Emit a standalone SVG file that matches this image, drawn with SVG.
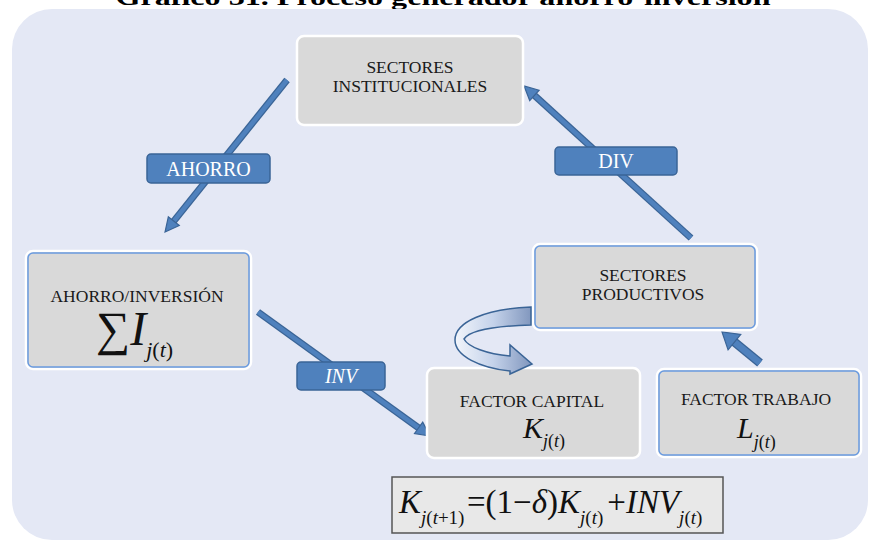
<svg xmlns="http://www.w3.org/2000/svg" width="869" height="548" viewBox="0 0 869 548" font-family="'Liberation Serif','Times New Roman',serif">
<defs>
<style>
.box{fill:#d9d9d9;stroke:#ffffff;stroke-width:2.5}
.edge{fill:none;stroke:#6a9be0;stroke-width:1.5}
.t{font-size:17.5px;fill:#1a1a1a;text-anchor:middle}
.m{font-style:italic;fill:#111111}
.up{font-style:normal}
.lab{fill:#4f81bd;stroke:#3a6496;stroke-width:1.5}
.labt{font-size:20px;fill:#ffffff;text-anchor:middle}
.sho{stroke:#3a6496;stroke-width:7;fill:none}
.shi{stroke:#4f81bd;stroke-width:4.5;fill:none}
.shoB{stroke:#3a6496;stroke-width:9;fill:none}
.shiB{stroke:#4f81bd;stroke-width:6.5;fill:none}
</style>
<marker id="ah" markerUnits="userSpaceOnUse" markerWidth="20" markerHeight="20" viewBox="-2 -10 20 20" refX="0" refY="0" orient="auto"><path d="M0,-7 L14,0 L0,7 Z" fill="#4f81bd" stroke="#3a6496" stroke-width="1.2"/></marker>
<marker id="ahB" markerUnits="userSpaceOnUse" markerWidth="22" markerHeight="26" viewBox="-2 -13 22 26" refX="0" refY="0" orient="auto"><path d="M0,-10 L16,0 L0,10 Z" fill="#4f81bd" stroke="#3a6496" stroke-width="1.2"/></marker>
<linearGradient id="cg" x1="0" y1="0" x2="1" y2="0">
<stop offset="0" stop-color="#f2f5fb"/>
<stop offset="0.5" stop-color="#c4d2ea"/>
<stop offset="1" stop-color="#8096bd"/>
</linearGradient>
</defs>

<text x="443" y="5" font-size="24" font-weight="bold" text-anchor="middle" textLength="655" lengthAdjust="spacingAndGlyphs" fill="#000">Gráfico 31. Proceso generador ahorro-inversión</text>

<rect x="12" y="9" width="856" height="531" rx="40" fill="#e4e8f5"/>

<g id="connectors">
  <line class="sho" x1="287" y1="80" x2="173.8" y2="221.1"/>
  <line class="shi" x1="287" y1="80" x2="173.8" y2="221.1" marker-end="url(#ah)"/>
  <line class="sho" x1="691" y1="238" x2="534.4" y2="95.4"/>
  <line class="shi" x1="691" y1="238" x2="534.4" y2="95.4" marker-end="url(#ah)"/>
  <line class="sho" x1="258" y1="312" x2="418.6" y2="427.8"/>
  <line class="shi" x1="258" y1="312" x2="418.6" y2="427.8" marker-end="url(#ah)"/>
  <line class="shoB" x1="760" y1="363" x2="734.4" y2="342.1"/>
  <line class="shiB" x1="760" y1="363" x2="734.4" y2="342.1" marker-end="url(#ahB)"/>
  <g id="lbl-ahorro">
    <rect class="lab" x="147" y="154" width="123" height="29" rx="4"/>
    <text class="labt" x="208.5" y="175.5">AHORRO</text>
  </g>
  <g id="lbl-div">
    <rect class="lab" x="555" y="147" width="122" height="28" rx="4"/>
    <text class="labt" x="616" y="168">DIV</text>
  </g>
  <g id="lbl-inv">
    <rect class="lab" x="297" y="362" width="88" height="28" rx="4"/>
    <text class="labt" x="341" y="383" font-style="italic">INV</text>
  </g>
</g>

<g id="n-institucionales">
  <rect class="box" x="297" y="36" width="226" height="89" rx="7"/>
  <text class="t" x="410" y="73">SECTORES</text>
  <text class="t" x="410" y="92">INSTITUCIONALES</text>
</g>

<g id="n-ahorro">
  <rect class="box" x="26" y="251" width="225" height="118" rx="7"/>
  <rect class="edge" x="28" y="253" width="221" height="114" rx="5"/>
  <text class="t" x="137" y="302">AHORRO/INVERSIÓN</text>
  <text class="m" x="96" y="345" font-size="46"><tspan class="up" font-size="48">∑</tspan><tspan font-size="48">I</tspan><tspan font-size="22" dy="12">j</tspan><tspan class="up" font-size="22">(</tspan><tspan font-size="22">t</tspan><tspan class="up" font-size="22">)</tspan></text>
</g>

<g id="n-productivos">
  <rect class="box" x="533" y="244" width="224" height="86" rx="7"/>
  <rect class="edge" x="535" y="246" width="220" height="82" rx="5"/>
  <text class="t" x="643" y="281">SECTORES</text>
  <text class="t" x="643" y="300">PRODUCTIVOS</text>
</g>

<g id="n-capital">
  <rect class="box" x="427" y="368" width="213" height="90" rx="7"/>
  <text class="t" x="532" y="407">FACTOR CAPITAL</text>
  <text class="m" x="523" y="438" font-size="30">K<tspan font-size="18" dy="9">j</tspan><tspan class="up" font-size="18">(</tspan><tspan font-size="18">t</tspan><tspan class="up" font-size="18">)</tspan></text>
</g>

<g id="n-trabajo">
  <rect class="box" x="657" y="369" width="204" height="88" rx="7"/>
  <rect class="edge" x="659" y="371" width="200" height="84" rx="5"/>
  <text class="t" x="756" y="405">FACTOR TRABAJO</text>
  <text class="m" x="737" y="438" font-size="30">L<tspan font-size="18" dy="10">j</tspan><tspan class="up" font-size="18">(</tspan><tspan font-size="18">t</tspan><tspan class="up" font-size="18">)</tspan></text>
</g>

<g id="curved-arrow">
  <path d="M531,307 C485,309 455,322 455,340 C455,356 480,368 510,371 L510,374 L532,364 L510,345 L510,356 C487,354 468,347 464,339 C470,330 498,326 531,325 Z" fill="url(#cg)" stroke="#3a6496" stroke-width="1.5"/>
</g>

<g id="equation">
  <rect x="392" y="477" width="331" height="56" fill="#e8e8e8" stroke="#555555" stroke-width="1.5"/>
  <text class="m" y="513" font-size="33"><tspan x="399">K</tspan><tspan font-size="19" dy="11">j</tspan><tspan class="up" font-size="19">(</tspan><tspan font-size="19">t</tspan><tspan class="up" font-size="19">+1)</tspan><tspan class="up" x="467" dy="-11">=(1−</tspan><tspan>δ</tspan><tspan class="up">)</tspan><tspan>K</tspan><tspan font-size="19" dy="11">j</tspan><tspan class="up" font-size="19">(</tspan><tspan font-size="19">t</tspan><tspan class="up" font-size="19">)</tspan><tspan class="up" dx="4" dy="-11">+</tspan><tspan>INV</tspan><tspan font-size="19" dy="11">j</tspan><tspan class="up" font-size="19">(</tspan><tspan font-size="19">t</tspan><tspan class="up" font-size="19">)</tspan></text>
</g>
</svg>
